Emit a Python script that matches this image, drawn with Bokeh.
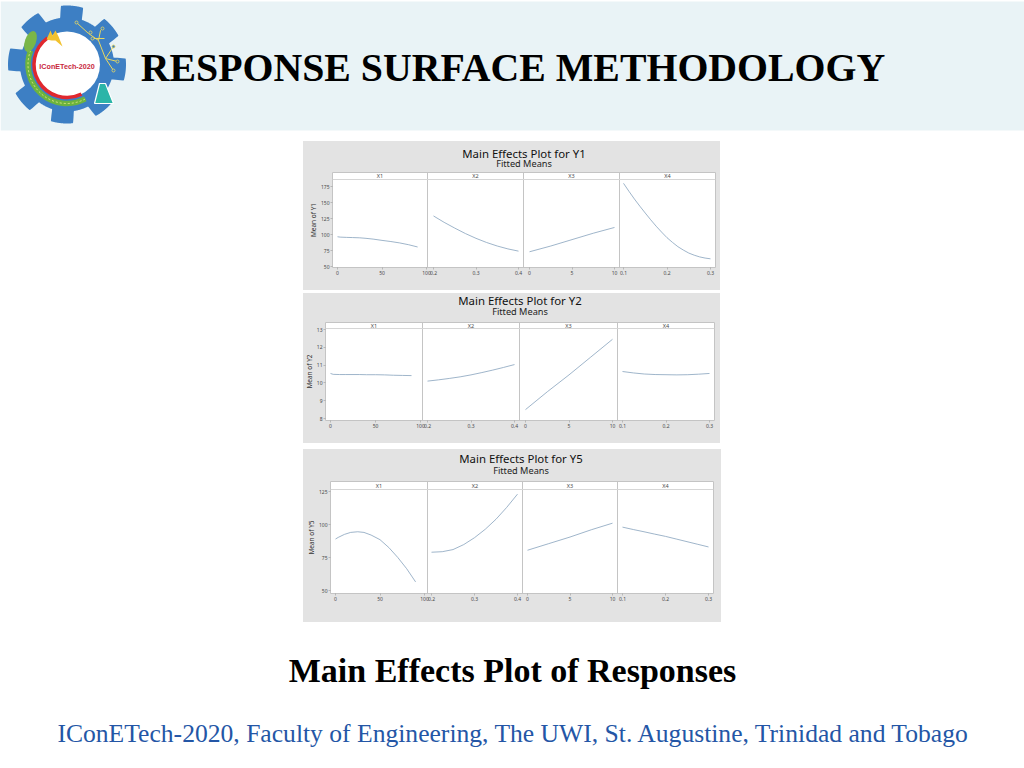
import numpy as np
from bokeh.core.properties import value
from bokeh.embed import file_html
from bokeh.layouts import column, row
from bokeh.models import FixedTicker, Label, LinearAxis, Range1d, Span, Spacer
from bokeh.plotting import figure
from bokeh.resources import INLINE

# ---------- data ----------
X_NAMES = ["X1", "X2", "X3", "X4"]
X_TICKS = [[0, 50, 100], [0.2, 0.3, 0.4], [0, 5, 10], [0.1, 0.2, 0.3]]
X_LABELS = [["0", "50", "100"], ["0.2", "0.3", "0.4"], ["0", "5", "10"], ["0.1", "0.2", "0.3"]]

X1_GRID = [0, 3, 10, 17, 25, 32, 40, 50, 60, 70, 80, 90]
X2_GRID = [0.2, 0.225, 0.25, 0.275, 0.3, 0.325, 0.35, 0.375, 0.4]
X3_GRID = [0, 2.5, 5, 7.5, 10]
X4_GRID = [0.1, 0.125, 0.15, 0.175, 0.2, 0.225, 0.25, 0.275, 0.3]
X4_FINE = [0.1, 0.1125, 0.125, 0.1375, 0.15, 0.1625, 0.175, 0.1875, 0.2,
           0.2125, 0.225, 0.2375, 0.25, 0.2625, 0.275, 0.2875, 0.3]

Y1_X1 = [96.5, 95.9, 95.5, 95.2, 94.8, 94, 92.8, 90.8, 89, 86.8, 84, 80.5]
Y1_X2 = [129, 119, 110, 101.5, 94, 87.5, 82, 77.5, 74]
Y1_X3 = [73, 82, 92, 102, 111]
Y1_X4 = [180, 167.5, 155.5, 144.3, 133.5, 123, 113, 103.8, 95, 87.7, 81, 75.7, 71, 67.7, 65, 63.2, 62]
Y2_X1 = [10.53, 10.48, 10.47, 10.47, 10.47, 10.47, 10.46, 10.46, 10.45, 10.43, 10.42, 10.41]
Y2_X2 = [10.1, 10.17, 10.25, 10.34, 10.45, 10.58, 10.72, 10.87, 11.03]
Y2_X3 = [8.5, 9.5, 10.45, 11.45, 12.45]
Y2_X4 = [10.64, 10.56, 10.5, 10.47, 10.46, 10.45, 10.46, 10.49, 10.53]
Y5_X1 = [89, 90.2, 92.5, 94, 94.5, 94, 92, 88.5, 82.5, 75, 66.5, 56.5]
Y5_X2 = [79, 79.4, 81, 84.8, 90, 96.4, 104, 113, 123]
Y5_X3 = [80.5, 85.5, 90.5, 96, 101]
Y5_X4 = [98, 96.2, 94.5, 92.7, 91, 89, 87, 85, 83]

# ---------- layout (page pixels) ----------
PANEL_L, PANEL_R = 303, 720
SERIF = "Liberation Serif"
SANS = "Noto Sans"
TXT = "#4a4a4a"
LINE = "#86a2bd"
EDGE = "#c4c4c4"
PANEL_BG = "#e3e3e3"
BG_STYLE = {"background-color": PANEL_BG}


def strip(x0, x1, y0, y1):
    s = figure(width=x1 - x0, height=y1 - y0, x_range=Range1d(x0, x1), y_range=Range1d(y1, y0),
               output_backend="svg", toolbar_location=None, tools="", frame_align=False,
               x_axis_location=None, y_axis_location=None, min_border=0,
               outline_line_color=None, background_fill_color=PANEL_BG, border_fill_color=PANEL_BG)
    s.grid.visible = False
    return s


def panel(name, sub, y_name, grids, series, y_ticks, box, y_px, strip_bottom_px, facet_px, dividers,
          title_y, sub_y, lab_x, strip_r):
    left, right, top, bottom, ptop, pbot = box
    (v0, p0), (v1, p1) = y_px
    to_val = lambda px: v0 + (px - p0) * (v1 - v0) / (p1 - p0)
    head_h = top - 2

    # title strip above the plot
    t = strip(PANEL_L, PANEL_R, ptop, head_h)
    mid_x = (left + right) / 2
    t.text([mid_x], [title_y], text=[name], text_font=value(SANS), text_font_size="11.4px",
           text_color="#111111", text_align="center", text_baseline="middle")
    t.text([mid_x], [sub_y], text=[sub], text_font=value(SANS), text_font_size="9.2px",
           text_color="#222222", text_align="center", text_baseline="middle")

    # strip that holds the y axis name
    s = strip(PANEL_L, strip_r, head_h, pbot)
    s.text([lab_x], [(top + bottom) / 2], text=[y_name], angle=[np.pi / 2], text_font=value(SANS),
           text_font_size="6.5px", text_color="#333333", text_align="center", text_baseline="middle")

    p = figure(
        width=PANEL_R - strip_r, height=pbot - head_h,
        x_range=Range1d(left, right), y_range=Range1d(to_val(bottom), to_val(top)),
        frame_width=right - left, frame_height=bottom - top, frame_align=False,
        min_border_left=left - strip_r, min_border_right=PANEL_R - right,
        min_border_top=top - head_h, min_border_bottom=pbot - bottom,
        output_backend="svg", toolbar_location=None, tools="",
        background_fill_color="white", border_fill_color=PANEL_BG,
        outline_line_color=EDGE, outline_line_width=1,
        x_axis_location=None, y_axis_location=None,
    )
    p.grid.visible = False

    tick_pos, overrides = [], {}
    for i in range(4):
        tk = X_TICKS[i]
        lo, hi = facet_px[i]
        conv = lambda v: lo + (np.asarray(v, float) - tk[0]) * (hi - lo) / (tk[-1] - tk[0])
        for v, lab in zip(tk, X_LABELS[i]):
            pos = float(conv(v))
            tick_pos.append(pos)
            overrides[pos] = lab
        p.line(conv(grids[i]), series[i], line_color=LINE, line_width=0.8)
        cx = (dividers[i] + dividers[i + 1]) / 2
        p.add_layout(Label(x=cx, y=to_val((top + strip_bottom_px) / 2), text=X_NAMES[i],
                           text_font=SANS, text_font_size="5.5px", text_color=TXT,
                           text_align="center", text_baseline="middle"))
    for d in dividers[1:-1]:
        p.add_layout(Span(location=d, dimension="height", line_color=EDGE, line_width=1))
    p.add_layout(Span(location=to_val(strip_bottom_px), dimension="width", line_color="#d6d6d6", line_width=1))

    xa = LinearAxis(ticker=FixedTicker(ticks=tick_pos), major_label_overrides=overrides)
    ya = LinearAxis(ticker=FixedTicker(ticks=y_ticks))
    for a in (xa, ya):
        a.axis_line_color = None
        a.major_tick_line_color = "#9a9a9a"
        a.major_tick_line_width = 0.6
        a.major_tick_in = 0
        a.major_tick_out = 2
        a.minor_tick_line_color = None
        a.major_label_text_font = SANS
        a.major_label_text_font_size = "5px"
        a.major_label_text_color = TXT
        a.major_label_standoff = 1
    p.add_layout(xa, "below")
    p.add_layout(ya, "left")
    body = row(s, p, spacing=0, styles=BG_STYLE)
    return column(t, body, spacing=0, styles=BG_STYLE)


g1 = [X1_GRID, X2_GRID, X3_GRID, X4_FINE]
g2 = [X1_GRID, X2_GRID, X3_GRID, X4_GRID]
p1 = panel("Main Effects Plot for Y1", "Fitted Means", "Mean of Y1", g1,
           [Y1_X1, Y1_X2, Y1_X3, Y1_X4], [50, 75, 100, 125, 150, 175],
           (332, 715, 172, 267, 141, 290), ((175, 186), (50, 266)), 179,
           [(337, 426), (433, 518), (529, 614), (623, 710)], [332, 427, 523, 619, 715], 153, 163, 313, 317)
p2 = panel("Main Effects Plot for Y2", "Fitted Means", "Mean of Y2", g2,
           [Y2_X1, Y2_X2, Y2_X3, Y2_X4], [8, 9, 10, 11, 12, 13],
           (325, 714, 322, 420, 293, 443), ((13, 329), (8, 418)), 328,
           [(330, 420), (427, 514), (525, 612), (622, 709)], [325, 422, 519, 617, 714], 300, 311, 309, 313)
p3 = panel("Main Effects Plot for Y5", "Fitted Means", "Mean of Y5", g2,
           [Y5_X1, Y5_X2, Y5_X3, Y5_X4], [50, 75, 100, 125],
           (329, 712, 481, 593, 449, 622), ((125, 491), (50, 590)), 489,
           [(334, 423), (430, 516), (526, 611), (621, 707)], [329, 426, 521, 616, 712], 458, 470, 311, 315)


def canvas(y0, y1):
    f = figure(width=1024, height=y1 - y0, x_range=Range1d(0, 1024), y_range=Range1d(y1, y0),
               output_backend="svg", toolbar_location=None, tools="", frame_align=False,
               x_axis_location=None, y_axis_location=None,
               min_border=0, outline_line_color=None,
               background_fill_color="white", border_fill_color="white")
    f.grid.visible = False
    return f


# ---------- header with band and logo ----------
head = canvas(0, 141)
head.quad(left=[0], right=[1024], top=[1], bottom=[130], fill_color="#e9f3f6", line_color=None)

cx, cy = 66.5, 64.0
ang = np.linspace(0, 2 * np.pi, 721)
tooth = ((np.cos(8 * (ang - np.radians(5))) + 1) / 2)
r_gear = 47 + 12 * np.clip((tooth - 0.36) * 6, 0, 1)
head.patch(cx + r_gear * np.cos(ang), cy + r_gear * np.sin(ang), fill_color="#3d7fc4", line_color=None)
head.circle([cx], [cy], radius=33, fill_color="white", line_color=None)
head.arc([cx], [cy], radius=39, start_angle=np.radians(159), end_angle=np.radians(298),
         line_color="#6cb33f", line_width=5.5, direction="anticlock")
head.arc([cx], [cy], radius=39, start_angle=np.radians(159), end_angle=np.radians(298),
         line_color="#f4f08a", line_width=0.8, line_dash="2 2", direction="anticlock")
head.arc([cx], [cy], radius=33, start_angle=np.radians(126), end_angle=np.radians(296),
         line_color="#e0282e", line_width=3.5, direction="anticlock")
head.ellipse([30], [41], width=11, height=22, angle=-0.35, fill_color="#7ab648", line_color=None)
head.patch([46, 50, 52, 55, 58, 62, 55, 51], [39, 30, 35, 30, 36, 46, 40, 40], fill_color="#f2c230", line_color=None)
head.patch([99, 105, 113, 94], [83, 83, 103, 103], fill_color="#2bb5a8", line_color="white", line_width=1.2)
for xs, ys in [([76, 88, 98, 105, 117], [22, 33, 40, 58, 61]), ([98, 100, 102], [40, 30, 28]),
               ([105, 113], [58, 46]), ([105, 113], [58, 70]), ([92, 104], [38, 38])]:
    head.line(xs, ys, line_color="#e8d860", line_width=1)
head.scatter([76, 117, 102, 113, 113, 92, 90], [22, 61, 28, 46, 70, 38, 32], size=3,
             fill_color="#3d7fc4", line_color="#e8d860", line_width=0.8)
head.text([66.5], [66], text=["IConETech-2020"], text_font=value("Liberation Sans"), text_font_size="7.2px",
          text_font_style="bold", text_color="#c8283c", text_align="center", text_baseline="middle")
head.text([512.5], [67], text=["RESPONSE SURFACE METHODOLOGY"], text_font=value(SERIF), text_font_size="39.8px",
          text_font_style="bold", text_color="#000000", text_align="center", text_baseline="middle")

# ---------- caption and footer ----------
foot = canvas(622, 768)
foot.text([512], [669.5], text=["Main Effects Plot of Responses"], text_font=value(SERIF), text_font_size="34px",
          text_font_style="bold", text_color="#000000", text_align="center", text_baseline="middle")
foot.text([513.5], [733], text=["IConETech-2020, Faculty of Engineering, The UWI, St. Augustine, Trinidad and Tobago"],
          text_font=value(SERIF), text_font_size="25.6px", text_color="#2456a6",
          text_align="center", text_baseline="middle")

panels = column(p1, Spacer(height=3), p2, Spacer(height=6), p3, spacing=0)
mid = row(Spacer(width=PANEL_L), panels, Spacer(width=1024 - PANEL_R), spacing=0)
page = column(head, mid, foot, spacing=0)

open("out.html", "w").write(file_html(page, INLINE))
